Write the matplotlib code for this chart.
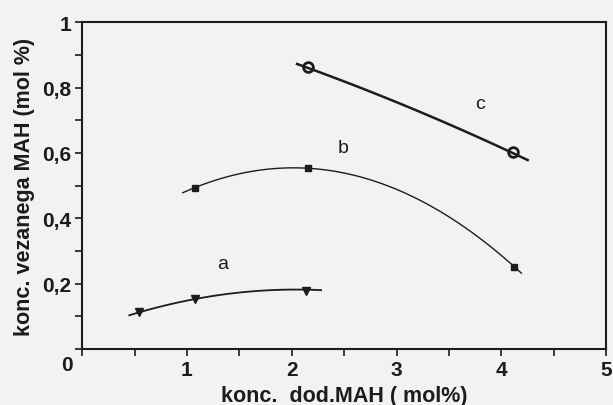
import matplotlib
matplotlib.use("Agg")
import matplotlib.pyplot as plt
import numpy as np
from matplotlib.ticker import MultipleLocator

plt.rcParams['font.family'] = ['Liberation Sans', 'DejaVu Sans']

a_x = [0.54, 1.08, 2.14]
a_y = [0.113, 0.153, 0.177]
b_x = [1.08, 2.15, 4.12]
b_y = [0.492, 0.553, 0.251]
c_x = [2.15, 4.11]
c_y = [0.862, 0.602]

# fitted trend curves
a_fit_x = [0.45, 1.08, 2.28]
a_fit_y = [0.103, 0.153, 0.180]
b_fit_x = [0.96, 2.15, 4.19]
b_fit_y = [0.478, 0.553, 0.232]
c_fit_x = [2.05, 3.0, 4.25]
c_fit_y = [0.872, 0.755, 0.578]

curve_labels = ['a', 'b', 'c']
label_x = [1.34, 2.49, 3.80]
label_y = [0.262, 0.617, 0.750]

ink = '#1c1c1c'
bg = '#f2f2f2'

fig = plt.figure(figsize=(6.13, 4.06), dpi=100, facecolor=bg)
ax = fig.add_axes([0.134, 0.138, 0.855, 0.805], facecolor=bg)


def smooth(xs, ys):
    p = np.polyfit(xs, ys, 2)
    xx = np.linspace(xs[0], xs[-1], 100)
    return xx, np.polyval(p, xx)


for fx, fy, lw in [(a_fit_x, a_fit_y, 1.3), (b_fit_x, b_fit_y, 1.0), (c_fit_x, c_fit_y, 1.8)]:
    xx, yy = smooth(fx, fy)
    ax.plot(xx, yy, color=ink, lw=lw)

ax.plot(a_x, a_y, 'v', color=ink, ms=6, ls='none')
ax.plot(b_x, b_y, 's', color=ink, ms=4.5, ls='none')
ax.plot(c_x, c_y, 'o', mfc='none', mec=ink, mew=2, ms=7, ls='none')

for t, x, y in zip(curve_labels, label_x, label_y):
    ax.text(x, y, t, fontsize=14, color=ink, ha='center', va='center')

ax.set_xlim(0, 5)
ax.set_ylim(0, 1)
ax.xaxis.set_minor_locator(MultipleLocator(0.5))
ax.yaxis.set_minor_locator(MultipleLocator(0.1))
ax.set_xticks([1, 2, 3, 4, 5])
ax.set_xticklabels(['1', '2', '3', '4', '5'])
ax.set_yticks([0.2, 0.4, 0.6, 0.8, 1.0])
ax.set_yticklabels(['0,2', '0,4', '0,6', '0,8', '1'])
ax.tick_params(which='both', direction='out', length=5, width=1.2, colors=ink,
               labelsize=15, pad=3)
for lab in ax.get_xticklabels() + ax.get_yticklabels():
    lab.set_fontweight('bold')
for s in ax.spines.values():
    s.set_color(ink)
    s.set_linewidth(1.5)

# shared origin label
ax.text(-0.029, -0.046, '0', transform=ax.transAxes, fontsize=15, color=ink,
        fontweight='bold', ha='center', va='center')

ax.set_xlabel('konc.  dod.MAH ( mol%)', fontsize=15.5, color=ink,
              fontweight='bold', labelpad=4)
ax.set_ylabel('konc. vezanega MAH (mol %)', fontsize=15.5, color=ink,
              fontweight='bold', labelpad=5)

fig.savefig('out.png', dpi=100, facecolor=bg)
